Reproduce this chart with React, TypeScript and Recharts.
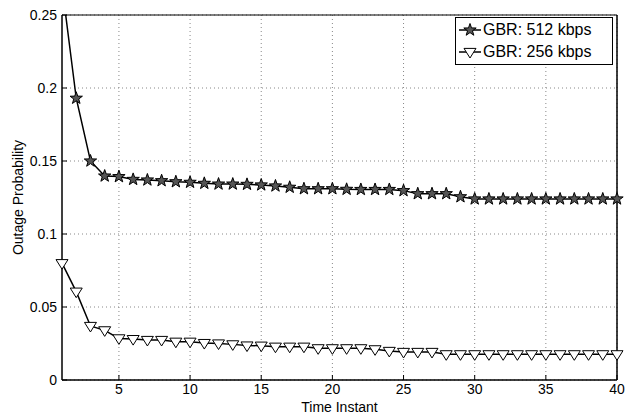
import React from "react";
import {
  CartesianGrid,
  Line,
  LineChart,
  ReferenceArea,
  XAxis,
  YAxis,
} from "recharts";

const timeInstants = [
  1, 2, 3, 4, 5, 6, 7, 8, 9, 10, 11, 12, 13, 14, 15, 16, 17, 18, 19, 20, 21,
  22, 23, 24, 25, 26, 27, 28, 29, 30, 31, 32, 33, 34, 35, 36, 37, 38, 39, 40,
];

const gbr512 = [
  0.27, 0.193, 0.15, 0.1397, 0.1393, 0.1374, 0.137, 0.1365, 0.1358, 0.1354,
  0.1347, 0.1342, 0.1342, 0.134, 0.1336, 0.1329, 0.132, 0.131, 0.131, 0.131,
  0.1306, 0.1305, 0.1305, 0.1305, 0.1297, 0.1276, 0.1276, 0.1276, 0.1255,
  0.124, 0.124, 0.124, 0.124, 0.124, 0.124, 0.124, 0.124, 0.124, 0.124, 0.124,
];

const gbr256 = [
  0.08, 0.0605, 0.037, 0.034, 0.0285, 0.028, 0.0274, 0.0274, 0.0262, 0.0262,
  0.0253, 0.025, 0.0244, 0.0236, 0.0235, 0.0228, 0.0228, 0.0228, 0.0217,
  0.0217, 0.0217, 0.0217, 0.021, 0.0199, 0.0192, 0.0192, 0.0192, 0.0176,
  0.0176, 0.0176, 0.0176, 0.0176, 0.0176, 0.0176, 0.0176, 0.0176, 0.0176,
  0.0176, 0.0176, 0.0176,
];

const seriesNames = ["GBR: 512 kbps", "GBR: 256 kbps"];
const xTicks = [5, 10, 15, 20, 25, 30, 35, 40];
const yTicks = [0, 0.05, 0.1, 0.15, 0.2, 0.25];
const yTickLabels = ["0", "0.05", "0.1", "0.15", "0.2", "0.25"];

const data = timeInstants.map((t, i) => ({
  t,
  gbr512: gbr512[i],
  gbr256: gbr256[i],
}));

const FONT = "Liberation Sans, Arial, sans-serif";

// pentagram marker
const starPath = (cx: number, cy: number, r: number) => {
  const pts: string[] = [];
  for (let k = 0; k < 10; k++) {
    const rad = k % 2 === 0 ? r : r * 0.4;
    const a = -Math.PI / 2 + (k * Math.PI) / 5;
    pts.push(`${cx + rad * Math.cos(a)},${cy + rad * Math.sin(a)}`);
  }
  return "M" + pts.join("L") + "Z";
};

const triPath = (cx: number, cy: number, r: number) =>
  `M${cx - r},${cy - r * 0.6}L${cx + r},${cy - r * 0.6}L${cx},${cy + r}Z`;

const StarDot = (props: any) => {
  const { cx, cy, index } = props;
  if (cx == null || cy == null) return <g key={index} />;
  return (
    <path
      key={index}
      d={starPath(cx, cy, 6.5)}
      fill="#555"
      stroke="#000"
      strokeWidth={1}
    />
  );
};

const TriDot = (props: any) => {
  const { cx, cy, index } = props;
  if (cx == null || cy == null) return <g key={index} />;
  return (
    <path
      key={index}
      d={triPath(cx, cy, 6)}
      fill="#fff"
      stroke="#000"
      strokeWidth={1}
    />
  );
};

const LegendBox = () => (
  <div
    style={{
      position: "absolute",
      top: 17,
      left: 455,
      width: 158,
      height: 48,
      boxSizing: "border-box",
      border: "1px solid #000",
      background: "#fff",
      fontFamily: FONT,
      fontSize: 16,
      color: "#000",
      padding: "1px 0 0 2px",
      lineHeight: "22px",
    }}
  >
    {seriesNames.map((name, i) => (
      <div key={name} style={{ display: "flex", alignItems: "center" }}>
        <svg width={24} height={16} style={{ marginRight: 1 }}>
          <line x1={1} y1={8} x2={23} y2={8} stroke="#000" strokeWidth={1.5} />
          {i === 0 ? (
            <path d={starPath(12, 8, 6.5)} fill="#555" stroke="#000" />
          ) : (
            <path d={triPath(12, 8, 6)} fill="#fff" stroke="#000" />
          )}
        </svg>
        <span>{name}</span>
      </div>
    ))}
  </div>
);

export default function App() {
  return (
    <div
      style={{
        position: "absolute",
        left: 0,
        top: 0,
        width: 626,
        height: 418,
        background: "#fff",
      }}
    >
      <LineChart
        width={626}
        height={418}
        data={data}
        margin={{ top: 15, right: 0, bottom: 0, left: 0 }}
      >
        <CartesianGrid
          stroke="#888"
          strokeDasharray="1 3"
          horizontalValues={yTicks}
          verticalValues={xTicks}
        />
        <XAxis
          dataKey="t"
          type="number"
          domain={[1, 40]}
          ticks={xTicks}
          height={38}
          tickSize={-5}
          tickMargin={9}
          stroke="#000"
          tick={{ fill: "#000", fontSize: 14, fontFamily: FONT }}
          label={{
            value: "Time Instant",
            position: "insideBottom",
            offset: 6,
            fill: "#000",
            fontSize: 14,
            fontFamily: FONT,
          }}
        />
        <XAxis
          xAxisId="top"
          dataKey="t"
          type="number"
          orientation="top"
          domain={[1, 40]}
          ticks={xTicks}
          height={0}
          tickSize={-5}
          tick={false}
          stroke="#000"
        />
        <YAxis
          domain={[0, 0.25]}
          ticks={yTicks}
          allowDataOverflow
          width={62}
          tickSize={-5}
          tickMargin={10}
          stroke="#000"
          tickFormatter={(v: number) => yTickLabels[yTicks.indexOf(v)] ?? String(v)}
          tick={{ fill: "#000", fontSize: 14, fontFamily: FONT }}
          label={{
            value: "Outage Probability",
            angle: -90,
            position: "insideLeft",
            offset: 18,
            style: { textAnchor: "middle" },
            fill: "#000",
            fontSize: 14,
            fontFamily: FONT,
          }}
        />
        <YAxis
          yAxisId="right"
          orientation="right"
          domain={[0, 0.25]}
          ticks={yTicks}
          width={9}
          tickSize={-5}
          tick={false}
          stroke="#000"
        />
        <ReferenceArea
          x1={1}
          x2={40}
          y1={0}
          y2={0.25}
          fill="none"
          stroke="#000"
          strokeWidth={1}
        />
        <Line
          type="linear"
          dataKey="gbr512"
          stroke="#000"
          strokeWidth={1.5}
          dot={<StarDot />}
          isAnimationActive={false}
          name={seriesNames[0]}
        />
        <Line
          type="linear"
          dataKey="gbr256"
          stroke="#000"
          strokeWidth={1.5}
          dot={<TriDot />}
          isAnimationActive={false}
          name={seriesNames[1]}
        />
      </LineChart>
      <LegendBox />
    </div>
  );
}
